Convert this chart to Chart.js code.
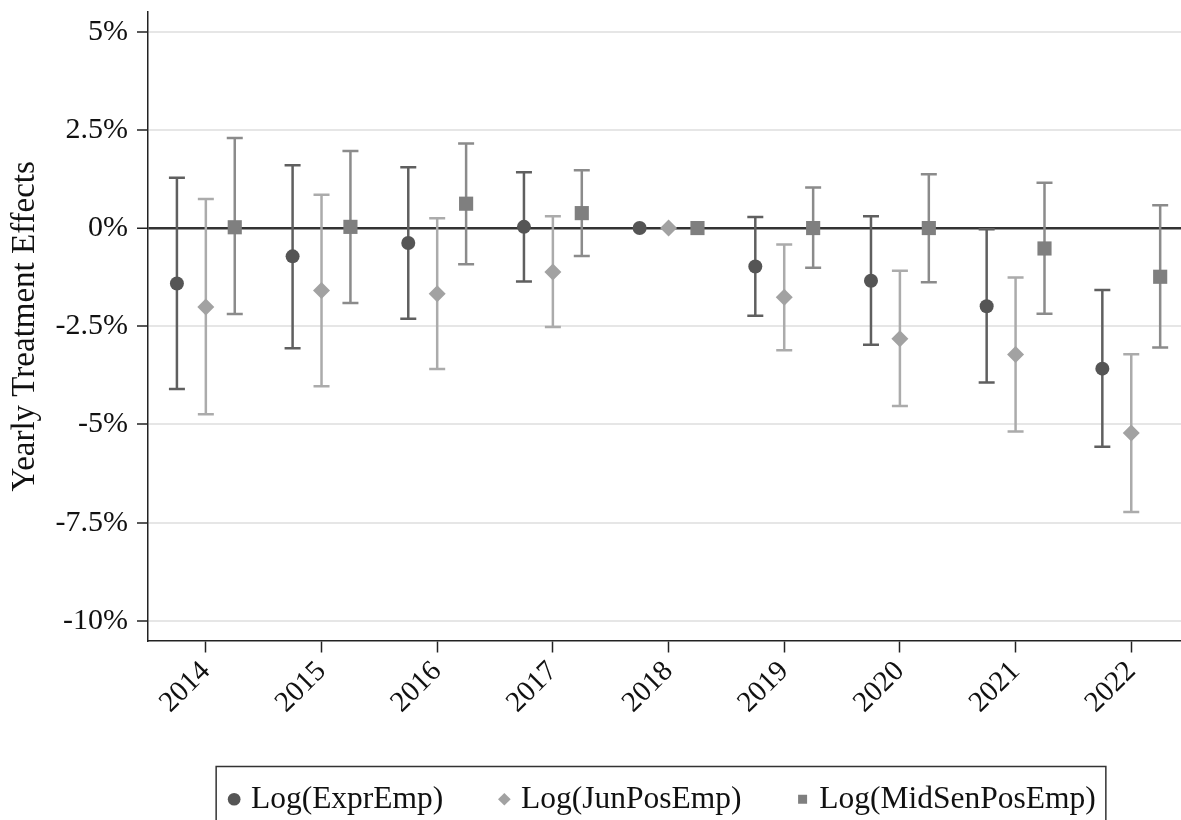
<!DOCTYPE html>
<html>
<head>
  <meta charset="UTF-8" />
  <title>Yearly Treatment Effects</title>
  <script src="https://cdn.jsdelivr.net/npm/chart.js"></script>
  <style>
    html, body { margin: 0; padding: 0; background: #fff; overflow: hidden; }
    #wrap { width: 1181px; height: 820px; overflow: hidden; }
    #effectsChart { display: block; }
  </style>
</head>
<body>
<div id="wrap"><canvas id="effectsChart"></canvas></div>

<script>
  // 1) Data (percent)
  const years = [2014, 2015, 2016, 2017, 2018, 2019, 2020, 2021, 2022];

  const exprEst = [-1.41, -0.72, -0.38, 0.03, 0, -0.98, -1.34, -1.99, -3.58];
  const exprLo  = [-4.10, -3.06, -2.31, -1.36, null, -2.23, -2.97, -3.93, -5.57];
  const exprHi  = [1.28, 1.60, 1.55, 1.42, null, 0.28, 0.30, -0.03, -1.58];

  const junEst = [-2.01, -1.59, -1.67, -1.12, 0, -1.76, -2.82, -3.22, -5.22];
  const junLo  = [-4.74, -4.03, -3.59, -2.52, null, -3.11, -4.53, -5.18, -7.23];
  const junHi  = [0.74, 0.85, 0.25, 0.30, null, -0.42, -1.09, -1.26, -3.21];

  const midEst = [0.02, 0.03, 0.62, 0.38, 0, 0, 0, -0.52, -1.24];
  const midLo  = [-2.19, -1.91, -0.92, -0.71, null, -1.01, -1.38, -2.18, -3.04];
  const midHi  = [2.29, 1.96, 2.15, 1.47, null, 1.03, 1.37, 1.15, 0.58];

  const yTicks = [-10, -7.5, -5, -2.5, 0, 2.5, 5];

  // 2) Series setup
  const serif = "'Liberation Serif', 'Times New Roman', serif";
  const series = [
    { label: 'Log(ExprEmp)',      est: exprEst, lo: exprLo, hi: exprHi, shift: -0.25,
      style: 'circle',  radius: 7,   color: '#555555', barColor: '#5f5f5f' },
    { label: 'Log(JunPosEmp)',    est: junEst,  lo: junLo,  hi: junHi,  shift: 0,
      style: 'rectRot', radius: 8.5, color: '#a2a2a2', barColor: '#ababab' },
    { label: 'Log(MidSenPosEmp)', est: midEst,  lo: midLo,  hi: midHi,  shift: 0.25,
      style: 'rect',    radius: 10,  color: '#7f7f7f', barColor: '#8b8b8b' }
  ];

  const LEGEND_PAD = 60;

  // markers never sit on the plot edge, so let the plot run to the canvas edge
  if (Chart.ScatterController) {
    Chart.ScatterController.prototype.getMaxOverflow = () => 0;
  }

  // error bars drawn under the markers
  const errorBars = {
    id: 'errorBars',
    beforeDatasetsDraw(chart) {
      const { ctx, scales: { x, y } } = chart;
      series.forEach(s => {
        ctx.save();
        ctx.strokeStyle = s.barColor;
        ctx.lineWidth = 2.5;
        years.forEach((yr, i) => {
          if (s.lo[i] === null) return;
          const px = x.getPixelForValue(yr + s.shift);
          const top = y.getPixelForValue(s.hi[i]);
          const bot = y.getPixelForValue(s.lo[i]);
          ctx.beginPath();
          ctx.moveTo(px, top); ctx.lineTo(px, bot);
          ctx.moveTo(px - 8, top); ctx.lineTo(px + 8, top);
          ctx.moveTo(px - 8, bot); ctx.lineTo(px + 8, bot);
          ctx.stroke();
        });
        ctx.restore();
      });
    }
  };

  // frame around the legend
  const legendFrame = {
    id: 'legendFrame',
    afterDraw(chart) {
      const boxes = chart.legend && chart.legend.legendHitBoxes;
      if (!boxes || !boxes.length) return;
      const last = boxes[boxes.length - 1];
      const left = boxes[0].left - 17;
      const right = last.left + last.width + 10;
      const top = boxes[0].top - 17;
      const ctx = chart.ctx;
      ctx.save();
      ctx.strokeStyle = '#333';
      ctx.lineWidth = 1.5;
      ctx.strokeRect(left, top, right - left, 80);
      ctx.restore();
    }
  };

  const ctx = document.getElementById('effectsChart').getContext('2d');
  const myChart = new Chart(ctx, {
    type: 'scatter',
    data: {
      datasets: series.map(s => ({
        label: s.label,
        data: years.map((yr, i) => ({ x: yr + s.shift, y: s.est[i] })),
        pointStyle: s.style,
        pointRadius: s.radius,
        pointHoverRadius: s.radius,
        backgroundColor: s.color,
        borderColor: s.color,
        borderWidth: 0,
        clip: false
      }))
    },
    options: {
      responsive: true,
      maintainAspectRatio: false,
      animation: false,
      layout: { padding: { top: 12, right: 0, bottom: -5, left: 0 } },
      scales: {
        x: {
          type: 'linear',
          min: 2013.5,
          max: 2022.43,
          afterBuildTicks: scale => { scale.ticks = years.map(v => ({ value: v })); },
          afterFit: scale => {
            scale.height = 83;
            scale.paddingLeft = 0; scale.paddingRight = 0;
          },
          grid: { drawOnChartArea: false, drawTicks: true, tickLength: 12, tickColor: '#222', tickWidth: 1.5 },
          border: { color: '#222', width: 1.5 },
          ticks: {
            color: '#111',
            font: { family: serif, size: 29 },
            minRotation: 45,
            maxRotation: 45,
            padding: 2,
            callback: v => String(v)
          }
        },
        y: {
          min: -10.5,
          max: 5.5,
          afterBuildTicks: scale => { scale.ticks = yTicks.map(v => ({ value: v })); },
          afterFit: scale => {
            scale.width = 148;
            scale.paddingTop = 0; scale.paddingBottom = 0;
          },
          grid: {
            color: c => (c.tick && c.tick.value === 0) ? '#333333' : '#e6e6e6',
            lineWidth: c => (c.tick && c.tick.value === 0) ? 2.5 : 2,
            tickColor: '#222',
            tickWidth: 1.5,
            tickLength: 11
          },
          border: { color: '#222', width: 1.5 },
          ticks: {
            color: '#111',
            font: { family: serif, size: 30 },
            padding: 9,
            callback: v => v + '%'
          },
          title: {
            display: true,
            text: 'Yearly Treatment Effects',
            color: '#111',
            font: { family: serif, size: 33 },
            padding: { top: 6, bottom: 0 }
          }
        }
      },
      plugins: {
        legend: {
          display: true,
          position: 'bottom',
          fullSize: false,
          labels: {
            usePointStyle: true,
            boxHeight: 9,
            boxWidth: 2,
            padding: LEGEND_PAD,
            color: '#111',
            font: { family: serif, size: 31.5 }
          }
        },
        tooltip: { enabled: false }
      }
    },
    plugins: [errorBars, legendFrame]
  });
</script>

</body>
</html>
